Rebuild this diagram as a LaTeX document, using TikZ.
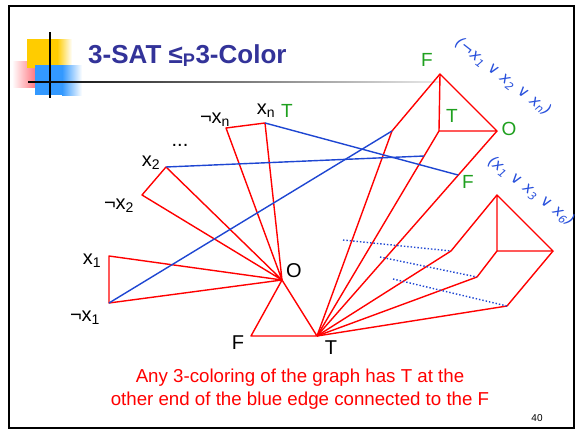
\documentclass[tikz,border=0pt]{standalone}
\usepackage{fontspec}
\setmainfont{Liberation Sans}
\newfontfamily\handfont{DejaVu Sans}
\usetikzlibrary{calc}
\definecolor{redl}{RGB}{255,0,0}
\definecolor{bluel}{RGB}{30,70,210}
\definecolor{titleblue}{RGB}{51,51,153}
\definecolor{greenl}{RGB}{30,160,30}
\definecolor{hand}{RGB}{40,80,220}
\definecolor{logoyellow}{RGB}{255,204,0}
\definecolor{logoblue}{RGB}{51,153,255}
\definecolor{logopink}{RGB}{255,120,130}
\begin{document}
\begin{tikzpicture}[x=1pt,y=-1pt,
 redge/.style={draw=redl, line width=1.4pt, line join=round},
 bedge/.style={draw=bluel, line width=1.4pt},
 dedge/.style={draw=bluel, line width=1.4pt, dotted},
 lit/.style={font=\fontsize{20}{20}\selectfont, inner sep=0pt},
 glab/.style={font=\fontsize{19}{19}\selectfont, text=greenl, inner sep=0pt},
 clause/.style={font=\handfont\itshape\fontsize{15.5}{15.5}\selectfont, text=hand, inner sep=0pt}]

\useasboundingbox (0,0) rectangle (579,431);
\fill[white] (0,0) rectangle (579,431);
\draw[line width=2pt] (9,6) rectangle (574,428);

% logo
\shade[left color=white, right color=logopink] (12,61) rectangle (35,87);
\fill[logoyellow] (27,39) rectangle (57,68);
\shade[left color=logoyellow, right color=white] (57,39) rectangle (72,68);
\fill[logoblue] (35,65) rectangle (62,95);
\shade[left color=logoblue, right color=white] (62,65) rectangle (82,95);
\draw[line width=1.2pt] (50,32) -- (50,98);
\shade[left color=black, right color=black!8] (28,81.3) rectangle (440,82.7);

\node[anchor=base west, text=titleblue, inner sep=0pt,
      font=\bfseries\fontsize{26}{26}\selectfont] (title) at (88,63)
      {3-SAT ≤\textsubscript{P}3-Color};

% vertices
\coordinate (x1) at (109,256);
\coordinate (nx1) at (109,303);
\coordinate (x2) at (166,167);
\coordinate (nx2) at (142,195);
\coordinate (nxn) at (226,128);
\coordinate (xn) at (265,123);
\coordinate (O) at (282,280);
\coordinate (F) at (251,336);
\coordinate (T) at (317,336);
\coordinate (P1) at (392,131);
\coordinate (GF) at (440,74);
\coordinate (GT) at (439,131);
\coordinate (GO) at (497,131);
\coordinate (Q2) at ($(T)!0.878!(GT)$);
\coordinate (Q3) at ($(T)!0.785!(GO)$);
\coordinate (H) at (497,195);
\coordinate (HM) at (497,251);
\coordinate (HR) at (553,251);
\coordinate (A) at (451,251);
\coordinate (B) at (477,277);
\coordinate (C) at (507,306);
\coordinate (D1) at (343,240);
\coordinate (D2) at (380,257);
\coordinate (D3) at (393,279);

% red edges
\draw[redge] (x1) -- (nx1) -- (O) -- cycle;
\draw[redge] (x2) -- (nx2) -- (O) -- cycle;
\draw[redge] (nxn) -- (xn) -- (O) -- cycle;
\draw[redge] (O) -- (F) -- (T) -- cycle;
\draw[redge] (T) -- (P1) -- (GF);
\draw[redge] (GF) -- (GT) -- (GO) -- cycle;
\draw[redge] (T) -- (GT);
\draw[redge] (T) -- (GO);
\draw[redge] (H) -- (HM) -- (HR) -- cycle;
\draw[redge] (T) -- (A) -- (H);
\draw[redge] (T) -- (B) -- (HM);
\draw[redge] (T) -- (C) -- (HR);

% blue edges
\draw[bedge] (nx1) -- (P1);
\draw[bedge] (x2) -- (Q2);
\draw[bedge] (xn) -- (Q3);
\draw[dedge] (D1) -- (A);
\draw[dedge] (D2) -- (B);
\draw[dedge] (D3) -- (C);

% literal labels
\node[lit] (lx1) at (92,261) {x\textsubscript{1}};
\node[lit] (lnx1) at (85,318) {¬x\textsubscript{1}};
\node[lit] (lx2) at (151,163) {x\textsubscript{2}};
\node[lit] (lnx2) at (119,206) {¬x\textsubscript{2}};
\node[lit] (ldots) at (180,145) {...};
\node[lit] (lnxn) at (215,120) {¬x\textsubscript{n}};
\node[lit] (lxn) at (266,111) {x\textsubscript{n}};
\node[glab] (lxnT) at (287,111) {T};
\node[lit] (lO) at (294,271) {O};
\node[lit] (lF) at (238,343) {F};
\node[lit] (lT) at (331,348) {T};

% gadget labels
\node[glab] (gF) at (427,60) {F};
\node[glab] (gT) at (452,116) {T};
\node[glab] (gO) at (509,129) {O};
\node[glab] (gF2) at (468,182) {F};

\node[clause, rotate=-38] (c1) at (503,77) {(¬x\textsubscript{1} ∨ x\textsubscript{2} ∨ x\textsubscript{n})};
\node[clause, rotate=-37] (c2) at (531,191) {(x\textsubscript{1} ∨ x\textsubscript{3} ∨ x\textsubscript{6})};

% caption
\node[text=redl, align=center, inner sep=0pt,
      font=\fontsize{18.7}{23}\selectfont] (cap) at (300,389)
      {Any 3-coloring of the graph has T at the\\other end of the blue edge connected to the F};
\node[font=\fontsize{10}{10}\selectfont, inner sep=0pt] (pg) at (537,418) {40};
\end{tikzpicture}
\end{document}
